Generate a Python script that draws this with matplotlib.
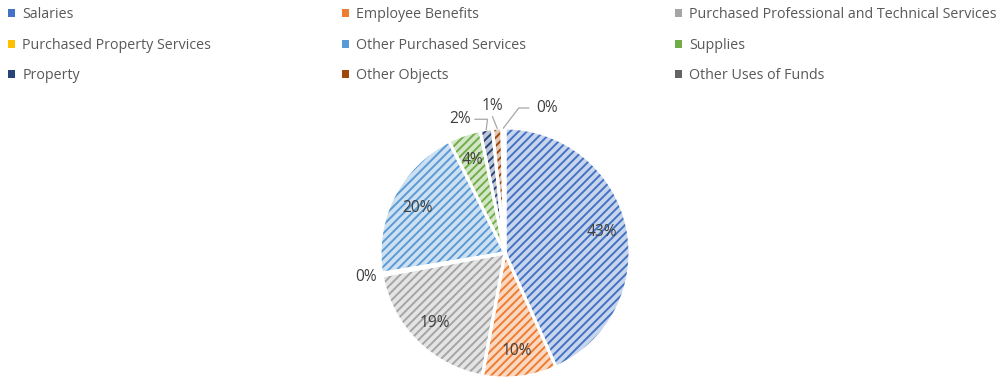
import numpy as np
import matplotlib.pyplot as plt
from matplotlib.patches import Patch

# spending share by category (%)
categories = ['Salaries', 'Employee Benefits', 'Purchased Professional and Technical Services',
              'Purchased Property Services', 'Other Purchased Services', 'Supplies',
              'Property', 'Other Objects', 'Other Uses of Funds']
shares = [43.3, 9.6, 19.2, 0.3, 20.2, 4.2, 1.6, 1.2, 0.4]
colors = ['#4472C4', '#ED7D31', '#A5A5A5', '#FFC000', '#5B9BD5', '#70AD47',
          '#264478', '#9E480E', '#636363']

plt.rcParams['font.family'] = ['Open Sans', 'DejaVu Sans']
plt.rcParams['hatch.linewidth'] = 1.4
txt_col = '#595959'


def light(c, a=0.3):
    r, g, b = plt.matplotlib.colors.to_rgb(c)
    return (1 - a * (1 - r), 1 - a * (1 - g), 1 - a * (1 - b))


fig = plt.figure(figsize=(10.06, 3.8), dpi=100)

# pie axes: centre ~ (505, 253) px, radius ~125 px
R = 125
half = 1.3 * R
ax = fig.add_axes([(505 - half) / 1006, (380 - 253 - half) / 380, 2 * half / 1006, 2 * half / 380])

wedges, _ = ax.pie(shares, colors=[light(c) for c in colors], startangle=90, counterclock=False,
                   wedgeprops=dict(linewidth=0))
for w, c in zip(wedges, colors):
    w.set_hatch('////')
    w.set_edgecolor(c)
# white separators on top
ax.pie(shares, colors=['none'] * len(shares), startangle=90, counterclock=False,
       wedgeprops=dict(linewidth=2.2, edgecolor='white'))
ax.set_xlim(-1.3, 1.3)
ax.set_ylim(-1.3, 1.3)
ax.set_aspect('equal')
ax.axis('off')

# labels
for i, w in enumerate(wedges):
    ang = np.deg2rad((w.theta1 + w.theta2) / 2)
    lab = '%.0f%%' % shares[i]
    if shares[i] >= 3:
        ax.text(0.79 * np.cos(ang), 0.79 * np.sin(ang), lab, ha='center', va='center',
                fontsize=11.2, color='#404040')

# small slices: labels outside with leader lines
def outside(i, tx, ty, path):
    w = wedges[i]
    ang = np.deg2rad((w.theta1 + w.theta2) / 2)
    ax.text(tx, ty, '%.0f%%' % shares[i], ha='center', va='center', fontsize=11.2, color='#404040')
    if path:
        xs = [p[0] for p in path] + [np.cos(ang)]
        ys = [p[1] for p in path] + [np.sin(ang)]
        ax.plot(xs, ys, color='#A6A6A6', lw=0.9)

outside(3, -1.11, -0.19, None)
outside(6, -0.36, 1.07, [(-0.24, 1.07), (-0.14, 1.07)])
outside(7, -0.10, 1.18, [(-0.10, 1.09)])
outside(8, 0.34, 1.16, [(0.19, 1.16), (0.11, 1.16)])

# legend in three columns, row-major order
col_x = [8, 342, 675]
for k in range(3):
    idx = [k, k + 3, k + 6]
    handles = [Patch(facecolor=colors[i], edgecolor='none') for i in idx]
    fig.legend(handles, [categories[i] for i in idx], loc='upper left',
               bbox_to_anchor=(col_x[k] / 1006, 1 - 7 / 380), frameon=False,
               fontsize=10.3, labelcolor=txt_col, handlelength=0.46, handleheight=0.46,
               handletextpad=0.55, labelspacing=1.1, borderaxespad=0, borderpad=0)

fig.savefig('out.png', dpi=100)
